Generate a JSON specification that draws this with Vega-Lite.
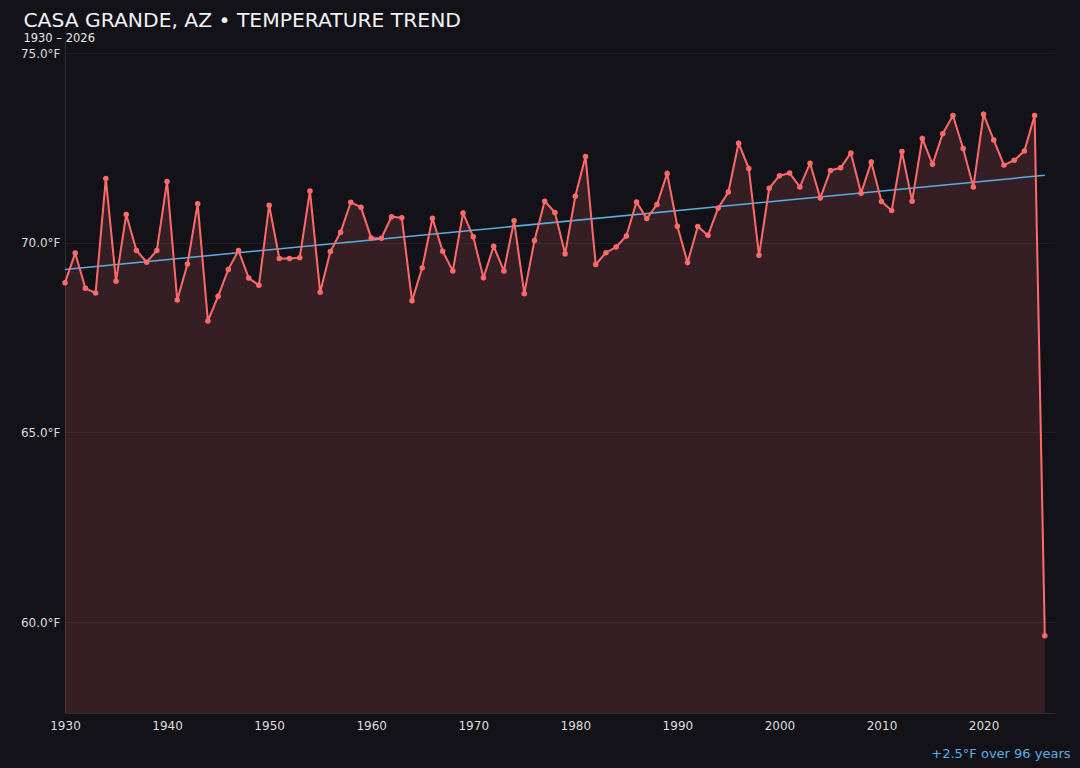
{
  "$schema": "https://vega.github.io/schema/vega-lite/v6.json",
  "width": 990,
  "height": 673,
  "autosize": {"type": "none"},
  "padding": {"left": 65, "top": 40, "right": 25, "bottom": 55},
  "background": "#131218",
  "title": {
    "text": "CASA GRANDE, AZ • TEMPERATURE TREND",
    "subtitle": "1930 – 2026",
    "anchor": "start",
    "frame": "bounds",
    "dx": 3,
    "offset": -4,
    "font": "DejaVu Sans",
    "fontSize": 20.3,
    "fontWeight": "normal",
    "color": "#f2f2f2",
    "subtitleFont": "DejaVu Sans",
    "subtitleFontSize": 11.5,
    "subtitleColor": "#e6e6e6",
    "subtitlePadding": 1
  },
  "datasets": {
    "temps": [
      {"year": 1930, "temp": 68.95}, {"year": 1931, "temp": 69.73}, {"year": 1932, "temp": 68.80},
      {"year": 1933, "temp": 68.68}, {"year": 1934, "temp": 71.70}, {"year": 1935, "temp": 68.99},
      {"year": 1936, "temp": 70.75}, {"year": 1937, "temp": 69.80}, {"year": 1938, "temp": 69.49},
      {"year": 1939, "temp": 69.80}, {"year": 1940, "temp": 71.62}, {"year": 1941, "temp": 68.49},
      {"year": 1942, "temp": 69.44}, {"year": 1943, "temp": 71.03}, {"year": 1944, "temp": 67.94},
      {"year": 1945, "temp": 68.59}, {"year": 1946, "temp": 69.30}, {"year": 1947, "temp": 69.80},
      {"year": 1948, "temp": 69.07}, {"year": 1949, "temp": 68.88}, {"year": 1950, "temp": 70.99},
      {"year": 1951, "temp": 69.59}, {"year": 1952, "temp": 69.59}, {"year": 1953, "temp": 69.61},
      {"year": 1954, "temp": 71.37}, {"year": 1955, "temp": 68.70}, {"year": 1956, "temp": 69.77},
      {"year": 1957, "temp": 70.28}, {"year": 1958, "temp": 71.07}, {"year": 1959, "temp": 70.94},
      {"year": 1960, "temp": 70.13}, {"year": 1961, "temp": 70.12}, {"year": 1962, "temp": 70.69},
      {"year": 1963, "temp": 70.66}, {"year": 1964, "temp": 68.47}, {"year": 1965, "temp": 69.34},
      {"year": 1966, "temp": 70.65}, {"year": 1967, "temp": 69.78}, {"year": 1968, "temp": 69.26},
      {"year": 1969, "temp": 70.79}, {"year": 1970, "temp": 70.16}, {"year": 1971, "temp": 69.08},
      {"year": 1972, "temp": 69.91}, {"year": 1973, "temp": 69.26}, {"year": 1974, "temp": 70.58},
      {"year": 1975, "temp": 68.66}, {"year": 1976, "temp": 70.06}, {"year": 1977, "temp": 71.10},
      {"year": 1978, "temp": 70.80}, {"year": 1979, "temp": 69.71}, {"year": 1980, "temp": 71.23},
      {"year": 1981, "temp": 72.28}, {"year": 1982, "temp": 69.43}, {"year": 1983, "temp": 69.74},
      {"year": 1984, "temp": 69.89}, {"year": 1985, "temp": 70.18}, {"year": 1986, "temp": 71.08},
      {"year": 1987, "temp": 70.64}, {"year": 1988, "temp": 71.01}, {"year": 1989, "temp": 71.83},
      {"year": 1990, "temp": 70.44}, {"year": 1991, "temp": 69.48}, {"year": 1992, "temp": 70.43},
      {"year": 1993, "temp": 70.20}, {"year": 1994, "temp": 70.92}, {"year": 1995, "temp": 71.34},
      {"year": 1996, "temp": 72.63}, {"year": 1997, "temp": 71.96}, {"year": 1998, "temp": 69.67},
      {"year": 1999, "temp": 71.44}, {"year": 2000, "temp": 71.77}, {"year": 2001, "temp": 71.84},
      {"year": 2002, "temp": 71.47}, {"year": 2003, "temp": 72.10}, {"year": 2004, "temp": 71.18},
      {"year": 2005, "temp": 71.91}, {"year": 2006, "temp": 71.98}, {"year": 2007, "temp": 72.37},
      {"year": 2008, "temp": 71.31}, {"year": 2009, "temp": 72.13}, {"year": 2010, "temp": 71.09},
      {"year": 2011, "temp": 70.85}, {"year": 2012, "temp": 72.41}, {"year": 2013, "temp": 71.10},
      {"year": 2014, "temp": 72.75}, {"year": 2015, "temp": 72.07}, {"year": 2016, "temp": 72.88},
      {"year": 2017, "temp": 73.36}, {"year": 2018, "temp": 72.49}, {"year": 2019, "temp": 71.47},
      {"year": 2020, "temp": 73.39}, {"year": 2021, "temp": 72.71}, {"year": 2022, "temp": 72.05},
      {"year": 2023, "temp": 72.18}, {"year": 2024, "temp": 72.42}, {"year": 2025, "temp": 73.36},
      {"year": 2026, "temp": 59.64}
    ],
    "trend": [
      {"year": 1930, "temp": 69.30},
      {"year": 2026, "temp": 71.78}
    ]
  },
  "encoding": {
    "x": {
      "field": "year",
      "type": "quantitative",
      "scale": {"domain": [1930, 2027], "nice": false, "zero": false},
      "axis": {
        "title": "+2.5°F over 96 years",
        "titleAnchor": "end",
        "titleAlign": "right",
        "titleX": 1005,
        "titlePadding": 16,
        "titleColor": "#5dade2",
        "titleFont": "DejaVu Sans",
        "titleFontSize": 13,
        "titleFontWeight": "normal",
        "values": [1930, 1940, 1950, 1960, 1970, 1980, 1990, 2000, 2010, 2020],
        "format": "d",
        "grid": false,
        "labelFlush": false,
        "labelPadding": 7
      }
    },
    "y": {
      "field": "temp",
      "type": "quantitative",
      "scale": {"domain": [57.6, 75.35], "nice": false, "zero": false},
      "axis": {
        "title": null,
        "values": [60, 65, 70, 75],
        "labelExpr": "format(datum.value, '.1f') + '°F'",
        "labelFlush": false,
        "labelPadding": 5
      }
    }
  },
  "layer": [
    {
      "data": {"name": "temps"},
      "mark": {"type": "area", "color": "#ff6b6b", "opacity": 0.15},
      "encoding": {"y2": {"datum": 57.6}}
    },
    {
      "data": {"name": "trend"},
      "mark": {"type": "line", "color": "#5dade2", "strokeWidth": 1.5},
      "encoding": {}
    },
    {
      "data": {"name": "temps"},
      "mark": {
        "type": "line",
        "color": "#ff6b6b",
        "strokeWidth": 2,
        "point": {"filled": true, "size": 30, "color": "#ff6b6b", "opacity": 1}
      },
      "encoding": {}
    }
  ],
  "config": {
    "view": {"stroke": null},
    "axis": {
      "labelFont": "DejaVu Sans",
      "labelFontSize": 12,
      "labelColor": "#dcdcdc",
      "domainColor": "#2e2d33",
      "gridColor": "#ffffff",
      "gridOpacity": 0.05,
      "ticks": false
    }
  }
}
